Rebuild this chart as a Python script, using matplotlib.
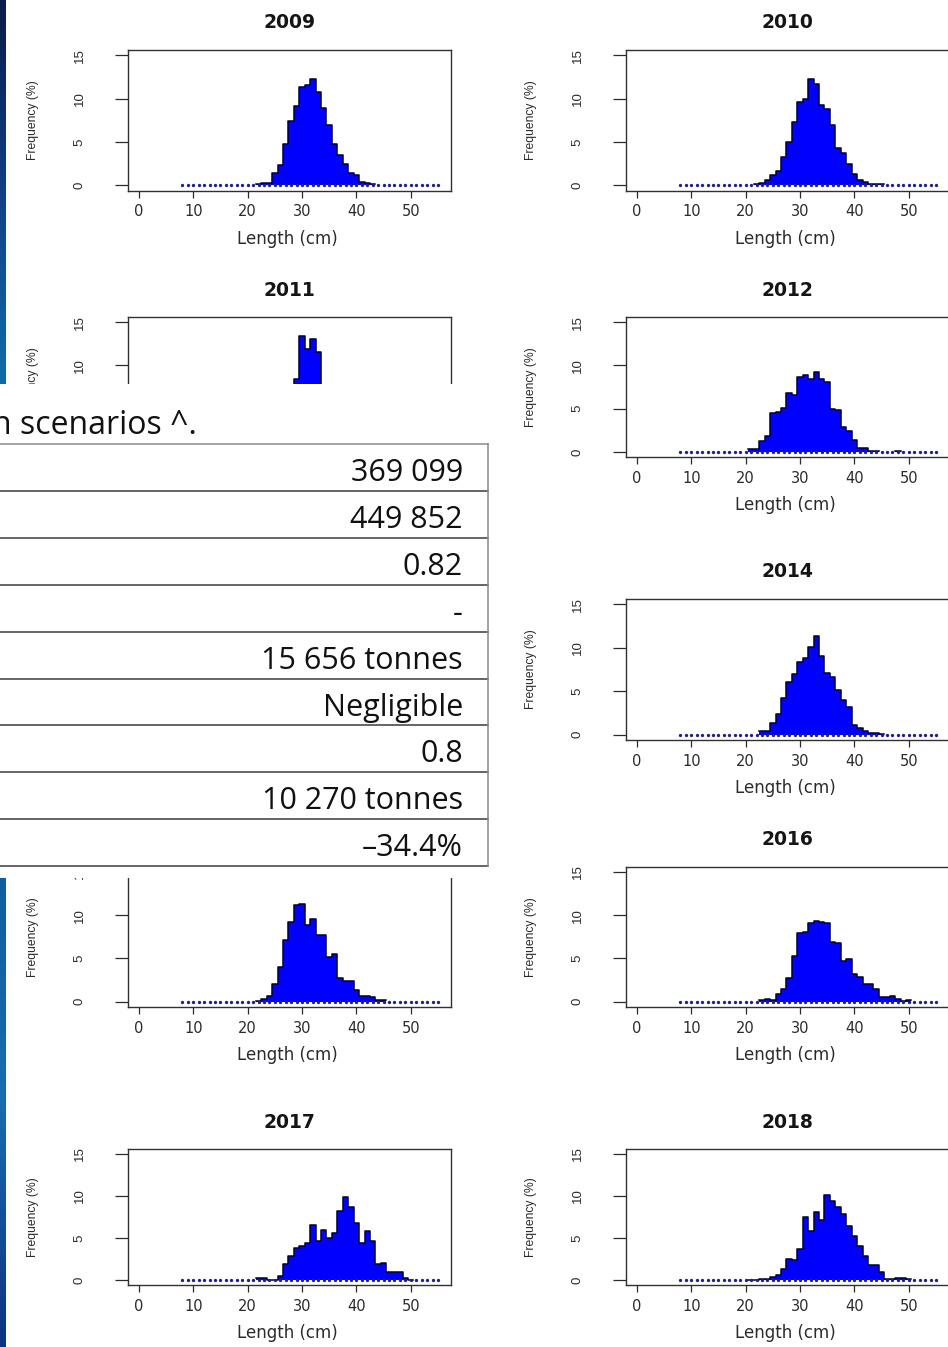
import numpy as np
import matplotlib
matplotlib.use('Agg')
import matplotlib.pyplot as plt
from matplotlib import font_manager
from matplotlib.transforms import offset_copy
from matplotlib.colors import LinearSegmentedColormap

W, H = 948, 1347

# length classes (cm), one class per cm; the lists below start at 20 cm
length_classes = np.arange(8, 56)
first_len = 20

f2009 = [0, 0, 0.1, 0.25, 0.3, 1.4, 2.3, 4.8, 7.4, 9.1, 11.3, 11.6, 12.2, 10.7, 8.9, 6.9,
         4.8, 3.5, 2.4, 1.4, 1.2, 0.4, 0.3, 0.2, 0, 0, 0, 0, 0, 0, 0]
f2010 = [0, 0, 0.1, 0.27, 0.6, 1.15, 1.65, 3.3, 5.0, 7.3, 9.6, 9.9, 12.3, 11.7, 9.3, 8.8,
         7.0, 4.3, 3.7, 2.4, 1.35, 0.65, 0.4, 0.2, 0.1, 0.1, 0, 0, 0, 0, 0]
f2011 = [0, 0, 0, 0, 0.2, 0.5, 1.2, 2.5, 4.5, 8.4, 13.4, 11.9, 13.1, 11.5, 7.5, 5.5,
         3.5, 2.0, 1.2, 0.6, 0.4, 0.2, 0, 0, 0, 0, 0, 0, 0, 0, 0]
f2012 = [0, 0.3, 0.3, 1.3, 1.8, 4.5, 4.6, 5.1, 6.8, 6.6, 8.7, 8.9, 8.4, 9.2, 8.4, 8.1,
         4.9, 4.8, 2.9, 2.4, 1.4, 0.45, 0.45, 0.15, 0.05, 0, 0, 0, 0.1, 0, 0]
f2014 = [0, 0, 0, 0.4, 0.4, 1.35, 2.4, 4.2, 6.1, 7.0, 8.4, 8.8, 10.1, 11.3, 9.1, 7.1,
         6.6, 5.2, 4.0, 3.2, 1.15, 0.75, 0.4, 0.25, 0.15, 0.1, 0, 0, 0, 0, 0]
f2015 = [0, 0, 0.1, 0.3, 0.7, 2.1, 4.0, 7.1, 9.2, 11.2, 11.3, 8.8, 9.5, 7.7, 7.7, 5.2,
         5.5, 2.8, 2.4, 2.4, 1.4, 0.65, 0.7, 0.5, 0.2, 0.15, 0, 0, 0, 0, 0]
f2016 = [0, 0, 0, 0.15, 0.3, 0.15, 0.85, 1.5, 2.7, 5.25, 7.9, 8.1, 9.1, 9.35, 9.2, 9.1,
         6.9, 6.8, 4.75, 4.9, 3.25, 2.9, 2.1, 2.0, 1.5, 0.55, 0.55, 0.65, 0.3, 0.1, 0.2]
f2017 = [0, 0, 0.2, 0.2, 0.05, 0.05, 0.5, 1.9, 2.9, 3.8, 4.0, 4.4, 6.6, 4.6, 6.0, 5.0,
         5.6, 8.25, 9.9, 8.65, 6.8, 4.4, 5.8, 4.6, 1.9, 2.05, 0.9, 0.9, 0.9, 0.2, 0.05]
f2018 = [0, 0.05, 0.05, 0.15, 0.1, 0.3, 0.6, 1.35, 2.5, 2.4, 3.7, 7.45, 5.8, 8.1, 7.1, 10.15,
         9.45, 8.7, 7.9, 6.4, 5.2, 4.0, 2.9, 1.75, 1.75, 0.95, 0.1, 0.1, 0.2, 0.25, 0.15]

years = [2009, 2010, 2011, 2012, 2014, 2015, 2016, 2017, 2018]
freqs = [f2009, f2010, f2011, f2012, f2014, f2015, f2016, f2017, f2018]

x_ticks = [0, 10, 20, 30, 40, 50]
y_ticks = [0, 5, 10, 15]

table_caption = 'n scenarios ^.'
table_values = ['369 099', '449 852', '0.82', '-', '15 656 tonnes', 'Negligible',
                '0.8', '10 270 tonnes', '\u201334.4%']

# panel boxes in pixels: left edge, top, bottom
left_col, right_col = 128, 626
boxes = {2009: (left_col, 50, 190.5), 2010: (right_col, 50, 190.5),
         2011: (left_col, 317, 457), 2012: (right_col, 317, 457),
         2014: (right_col, 599, 740),
         2015: (left_col, 866.5, 1007), 2016: (right_col, 866.5, 1007),
         2017: (left_col, 1149, 1285), 2018: (right_col, 1149, 1285)}
box_w = 323
# parts of panels that lie under the pasted table
under_table = {2011: ('xlabels', 'low_yticks'), 2015: ('title',)}

installed = {f.name for f in font_manager.fontManager.ttflist}
narrow = 'Liberation Sans Narrow' if 'Liberation Sans Narrow' in installed else 'Liberation Sans'
txt_col = '#2b2b2b'

fig = plt.figure(figsize=(W / 100, H / 100), dpi=100)
fig.patch.set_facecolor('white')


def px_axes(left, top, bottom, width):
    return fig.add_axes([left / W, 1 - bottom / H, width / W, (bottom - top) / H])


def r_hist(ax, year, freq):
    hidden = under_table.get(year, ())
    h = np.zeros(len(length_classes))
    i0 = first_len - length_classes[0]
    h[i0:i0 + len(freq)] = freq
    edges = np.append(length_classes - 0.5, length_classes[-1] + 0.5)
    ax.stairs(h, edges, fill=True, color='#0000ff', lw=0)
    outline = np.where(h > 0, h, np.nan)
    ax.step(edges, np.append(outline, np.nan), where='post', color='#00002e', lw=1.1)
    ax.plot(length_classes, np.zeros(len(h)), ls='none', marker='o', ms=2.4,
            mec='none', mfc='#20208a')

    ax.set_xlim(-2.0, 57.4)
    ax.set_ylim(-0.6, 15.6)
    ax.set_xticks(x_ticks)
    ylabels = [str(v) if (v >= 10 or 'low_yticks' not in hidden) else '' for v in y_ticks]
    ax.set_yticks(y_ticks, labels=ylabels, fontfamily=narrow)
    ax.tick_params(axis='x', length=5, width=0.9, pad=5, labelsize=10.5,
                   colors=txt_col, labelbottom='xlabels' not in hidden)
    ax.tick_params(axis='y', length=9.5, width=0.9, pad=21, labelsize=9.5,
                   labelrotation=90, colors=txt_col)
    for lab in ax.get_yticklabels():
        lab.set_va('center')
    for s in ax.spines.values():
        s.set_color('#303030')
        s.set_linewidth(1.0)

    if 'title' not in hidden:
        ax.text(0.5, 1, str(year), transform=offset_copy(ax.transAxes, fig, 0, 27, units='dots'),
                ha='center', va='center', fontsize=13.5, fontweight='bold', color='#151515')
    if 'xlabels' not in hidden:
        ax.text(0.5, 0, 'Length (cm)', transform=offset_copy(ax.transAxes, fig, -2, -48, units='dots'),
                ha='center', va='center', fontsize=12, color=txt_col)
    ax.text(0, 0.5, 'Frequency (%)', transform=offset_copy(ax.transAxes, fig, -95, 0, units='dots'),
            ha='center', va='center', rotation=90, fontsize=8.7, fontfamily=narrow, color=txt_col)


for year, freq in zip(years, freqs):
    left, top, bottom = boxes[year]
    ax = px_axes(left, top, bottom, box_w)
    r_hist(ax, year, freq)

# dark blue strip at the left edge
strip = px_axes(0, 0, H, 6)
cmap = LinearSegmentedColormap.from_list('strip', [(0, '#0b1b4f'), (0.12, '#0f3a80'),
                                                   (0.27, '#0f6aa6'), (0.65, '#0f5e9e'),
                                                   (0.82, '#1a6cb0'), (1, '#0b3580')])
strip.imshow(np.linspace(0, 1, 200)[:, None], cmap=cmap, aspect='auto')
strip.set_axis_off()

# table pasted over the left column
tab_top, tab_bottom, tab_right = 384, 878, 489
tab = px_axes(0, tab_top, tab_bottom, tab_right)
tab.set_zorder(5)
tab.set_facecolor('white')
tab.set_xlim(0, tab_right)
tab.set_ylim(tab_bottom, tab_top)
tab.set_xticks([])
tab.set_yticks([])
for s in tab.spines.values():
    s.set_visible(False)

tab.text(197, 434, table_caption, ha='right', va='baseline', fontsize=23,
         family='Open Sans', color='#111111', clip_on=True)
row_top, row_h = 444, 46.9
n = len(table_values)
for i, val in enumerate(table_values):
    y = row_top + i * row_h
    tab.text(463, y + 37, val, ha='right', va='baseline', fontsize=22,
             family='Open Sans', color='#111111')
for i in range(n + 1):
    y = row_top + i * row_h
    tab.plot([0, 488], [y, y], color='#8a8a8a' if i == 0 else '#3c3c3c', lw=1.1)
tab.plot([488, 488], [row_top, row_top + n * row_h], color='#8a8a8a', lw=1.1)

fig.savefig('out.png', dpi=100, facecolor='white')
